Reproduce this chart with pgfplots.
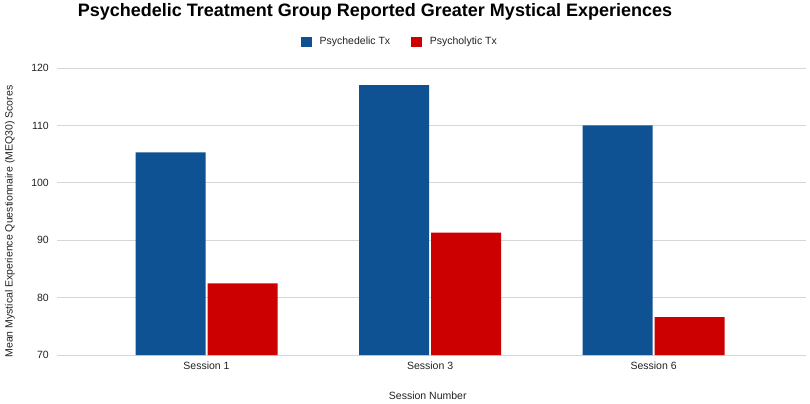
\documentclass[border=0pt]{standalone}
\usepackage{fontspec}
\setmainfont{Liberation Sans}
\usepackage{pgfplots}
\pgfplotsset{compat=1.18}
\definecolor{pblue}{RGB}{15,82,148}
\definecolor{pred}{RGB}{204,0,0}
\definecolor{gridc}{RGB}{214,214,214}
\definecolor{txt}{RGB}{34,34,34}
\begin{document}
\begin{tikzpicture}[x=1bp,y=1bp]
\useasboundingbox (0,0) rectangle (810,403);
\node[anchor=base, text=black, inner sep=0] at (375,387) {\fontsize{18bp}{20bp}\selectfont\bfseries Psychedelic Treatment Group Reported Greater Mystical Experiences};
\begin{axis}[
  at={(57bp,48bp)}, anchor=south west,
  scale only axis, width=749bp, height=287bp,
  ymin=70, ymax=120, ytick={70,80,...,120},
  xmin=-0.669, xmax=2.682,
  xtick={0,1,2}, xticklabels={Session 1,Session 3,Session 6},
  ybar=2bp, bar width=70bp,
  axis line style={draw=none},
  major tick length=0pt,
  ymajorgrids, major grid style={gridc, line width=1bp},
  /pgf/number format/assume math mode=true,
  tick label style={font=\fontsize{10.5bp}{12bp}\selectfont, text=txt},
  yticklabel style={anchor=east, inner sep=0pt, xshift=-8bp},
  xticklabel style={anchor=north, inner sep=0pt, yshift=-7bp},
  ylabel={Mean Mystical Experience Questionnaire (MEQ30) Scores},
  ylabel style={at={(axis description cs:-0.063,0.465)}, anchor=center, rotate=0, font=\fontsize{10.5bp}{12bp}\selectfont, text=txt, inner sep=0},
  xlabel={Session Number},
  xlabel style={at={(axis description cs:0.495,-0.143)}, anchor=center, font=\fontsize{10.5bp}{12bp}\selectfont, text=txt, inner sep=0},
  legend columns=2,
  legend style={at={(axis description cs:0.4566,1.092)}, anchor=center, draw=none, fill=none,
    font=\fontsize{10.5bp}{12bp}\selectfont, text=txt,
    nodes={inner sep=0pt},
    /tikz/every odd column/.append style={column sep=7.5bp},
    /tikz/every even column/.append style={column sep=21bp}},
  legend image code/.code={\fill[#1] (0bp,-5bp) rectangle (11bp,5bp);},
]
\addplot[fill=pblue, draw=none] coordinates {(0,105.3) (1,117.0) (2,110.0)};
\addplot[fill=pred, draw=none] coordinates {(0,82.5) (1,91.3) (2,76.6)};
\legend{Psychedelic Tx,Psycholytic Tx}
\end{axis}
\end{tikzpicture}
\end{document}
